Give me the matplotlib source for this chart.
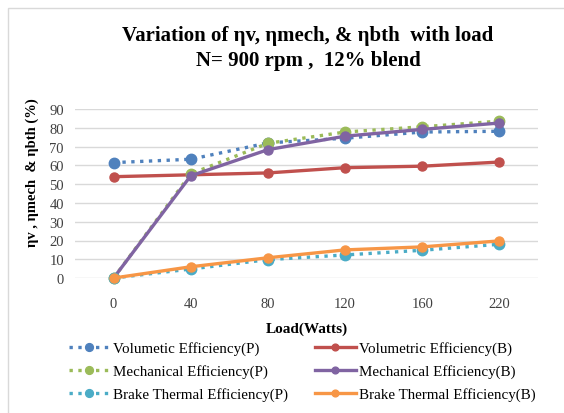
import matplotlib
matplotlib.use("Agg")
import matplotlib.pyplot as plt
from matplotlib.patches import Rectangle

loads = ["0", "40", "80", "120", "160", "220"]

vol_p = [61.5, 63.3, 72.0, 74.5, 77.8, 78.2]
vol_b = [54.0, 55.0, 56.0, 58.8, 59.6, 61.8]
mech_p = [0.0, 55.5, 71.8, 77.8, 80.6, 83.6]
mech_b = [0.0, 54.5, 68.4, 75.6, 79.2, 82.6]
bte_p = [0.0, 4.8, 9.8, 12.3, 14.8, 18.0]
bte_b = [0.0, 6.0, 10.8, 15.0, 16.6, 19.8]

plt.rcParams['font.family'] = ['Liberation Serif', 'DejaVu Serif']

fig = plt.figure(figsize=(5.64, 4.14), dpi=100)
# light chart-area border, cut off at right and bottom
fig.patches.append(Rectangle((0.015, -0.05), 1.2, 1.028, transform=fig.transFigure,
                             fill=False, edgecolor="#d9d9d9", linewidth=1.0))

ax = fig.add_axes([0.133, 0.326, 0.821, 0.408])
x = list(range(len(loads)))

series = [
    ("Volumetic Efficiency(P)", vol_p, "#4F81BD", ":"),
    ("Volumetric Efficiency(B)", vol_b, "#C0504D", "-"),
    ("Mechanical Efficiency(P)", mech_p, "#9BBB59", ":"),
    ("Mechanical Efficiency(B)", mech_b, "#8064A2", "-"),
    ("Brake Thermal Efficiency(P)", bte_p, "#4BACC6", ":"),
    ("Brake Thermal Efficiency(B)", bte_b, "#F79646", "-"),
]

handles = {}
for i, (name, vals, col, ls) in enumerate(series):
    ms = 7.5 if ls == ":" else 6.5
    line, = ax.plot(x, vals, linestyle=ls, color=col, linewidth=2.4,
                    marker="o", markersize=ms, label=name, clip_on=False,
                    zorder=3 + i)
    handles[name] = line

ax.set_xlim(-0.5, 5.5)
ax.set_ylim(0, 90)
ax.set_yticks(range(0, 91, 10))
ax.set_xticks(x)
ax.set_xticklabels(loads)
ax.grid(axis="y", color="#d9d9d9", linewidth=1.0)
ax.set_axisbelow(True)
for s in ax.spines.values():
    s.set_visible(False)
ax.tick_params(axis="y", length=0, labelsize=10.5, colors="#404040", pad=8)
ax.tick_params(axis="x", length=0, labelsize=10.5, colors="#404040", pad=14)

ax.set_xlabel("Load(Watts)", fontsize=11, fontweight="bold", labelpad=8)
fig.text(0.058, 1 - 173 / 414, "ηv , ηmech  & ηbth (%)", rotation=90,
         ha="center", va="center", fontsize=10.5, fontweight="bold")

fig.text(0.546, 1 - 36 / 414, "Variation of ηv, ηmech, & ηbth  with load",
         ha="center", va="center", fontsize=15, fontweight="bold")
fig.text(0.546, 1 - 61 / 414, "N= 900 rpm ,  12% blend",
         ha="center", va="center", fontsize=15, fontweight="bold")

order = ["Volumetic Efficiency(P)", "Mechanical Efficiency(P)", "Brake Thermal Efficiency(P)",
         "Volumetric Efficiency(B)", "Mechanical Efficiency(B)", "Brake Thermal Efficiency(B)"]
fig.legend([handles[n] for n in order], order, ncol=2, loc="upper left",
           bbox_to_anchor=(0.122, 1 - 342 / 414), frameon=False, fontsize=10.8,
           handlelength=2.7, handletextpad=0.25, columnspacing=1.8,
           labelspacing=0.62, borderaxespad=0, borderpad=0, markerscale=0.75)

fig.savefig("out.png", dpi=100)
